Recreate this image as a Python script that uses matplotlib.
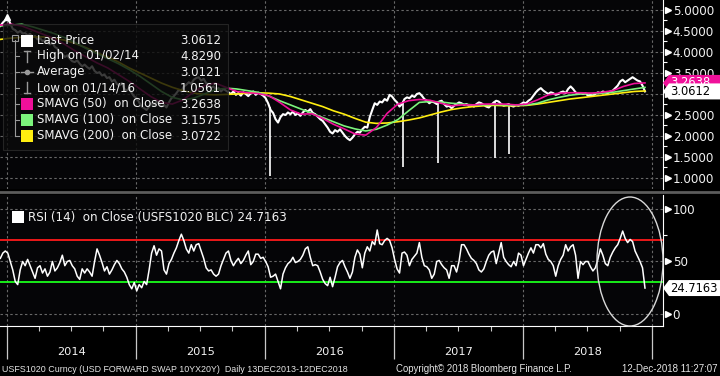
import numpy as np
import pandas as pd
import matplotlib
matplotlib.use("Agg")
import matplotlib.pyplot as plt
import matplotlib.dates as mdates
from matplotlib.patches import Rectangle, Polygon, Ellipse
from matplotlib.lines import Line2D

plt.rcParams['font.family'] = ['DejaVu Sans']

# ---- data (USFS1020, 10y20y fwd swap) ----
start, end = "2013-12-13", "2018-12-12"

# weekly closes
price = [
    4.62, 4.70, 4.76, 4.80, 4.68, 4.55, 4.52, 4.46, 4.50, 4.44,
    4.45, 4.40, 4.43, 4.36, 4.38, 4.30, 4.33, 4.26, 4.28, 4.22,
    4.18, 4.22, 4.12, 4.08, 4.00, 3.95, 3.88, 3.92, 3.84, 3.78,
    3.76, 3.80, 3.72, 3.66, 3.70, 3.64, 3.60, 3.66, 3.55, 3.50,
    3.52, 3.44, 3.46, 3.38, 3.40, 3.30, 3.34, 3.24, 3.20, 3.26,
    3.12, 3.08, 3.14, 3.02, 2.94, 2.90, 2.80, 2.70, 2.66, 2.62,
    2.70, 2.78, 2.74, 2.82, 2.76, 2.70, 2.74, 2.68, 2.80, 2.90,
    2.95, 3.02, 3.10, 3.06, 3.18, 3.22, 3.28, 3.24, 3.34, 3.38,
    3.40, 3.32, 3.36, 3.26, 3.22, 3.15, 3.18, 3.10, 3.14, 3.06,
    3.12, 3.08, 3.04, 3.00, 3.06, 2.98, 3.02, 2.96, 3.04, 3.00,
    2.95, 3.02, 3.06, 2.98, 3.03, 3.00, 2.96, 2.90, 2.78, 2.62,
    2.55, 2.40, 2.32, 2.45, 2.52, 2.50, 2.56, 2.52, 2.58, 2.50,
    2.54, 2.48, 2.56, 2.62, 2.58, 2.64, 2.55, 2.52, 2.46, 2.40,
    2.36, 2.28, 2.20, 2.10, 2.06, 2.14, 2.10, 2.16, 2.08, 2.00,
    1.94, 1.90, 1.96, 2.04, 2.10, 2.08, 2.16, 2.22, 2.20, 2.45,
    2.62, 2.78, 2.74, 2.82, 2.80, 2.88, 2.84, 2.98, 2.94, 2.86,
    2.80, 2.70, 2.76, 2.88, 2.92, 2.90, 2.96, 2.93, 3.00, 3.02,
    2.96, 2.88, 2.84, 2.78, 2.82, 2.80, 2.76, 2.82, 2.84, 2.76,
    2.70, 2.72, 2.66, 2.72, 2.76, 2.80, 2.78, 2.74, 2.76, 2.72,
    2.74, 2.70, 2.76, 2.80, 2.78, 2.74, 2.70, 2.68, 2.74, 2.80,
    2.84, 2.82, 2.76, 2.72, 2.74, 2.76, 2.72, 2.70, 2.74, 2.72,
    2.76, 2.80, 2.78, 2.84, 2.88, 2.96, 3.04, 3.10, 3.14, 3.08,
    3.04, 3.00, 3.04, 3.02, 2.98, 3.00, 3.04, 3.06, 3.02, 3.12,
    3.18, 3.12, 3.04, 3.00, 3.02, 3.00, 3.02, 2.96, 2.98, 2.96,
    3.00, 3.04, 3.02, 3.06, 3.04, 3.02, 3.06, 3.08, 3.14, 3.20,
    3.30, 3.34, 3.28, 3.32, 3.36, 3.40, 3.36, 3.32, 3.30, 3.20,
    3.0612,
]

# one-day bad prints (spikes down)
spike_dates = ["2016-01-14", "2017-01-27", "2017-05-05", "2017-10-12", "2017-11-21"]
spike_lows = [1.0561, 1.27, 1.35, 1.47, 1.58]

# moving averages, roughly monthly readings
sma50 = [
    4.64, 4.66, 4.62, 4.52, 4.42, 4.32, 4.18, 4.02, 3.88, 3.74,
    3.62, 3.46, 3.30, 3.12, 2.94, 2.80, 2.76, 2.86, 3.05, 3.20,
    3.26, 3.16, 3.06, 3.03, 3.01, 2.96, 2.80, 2.62, 2.52, 2.53,
    2.42, 2.28, 2.17, 2.05, 2.02, 2.20, 2.54, 2.76, 2.84, 2.87,
    2.85, 2.78, 2.72, 2.74, 2.74, 2.76, 2.76, 2.76, 2.74, 2.76,
    2.86, 2.98, 3.02, 3.03, 3.03, 3.02, 3.04, 3.08, 3.18, 3.25, 3.2638,
]
sma100 = [
    4.62, 4.64, 4.66, 4.60, 4.52, 4.44, 4.34, 4.22, 4.08, 3.96,
    3.84, 3.72, 3.58, 3.42, 3.24, 3.06, 2.92, 2.86, 2.90, 3.00,
    3.10, 3.14, 3.12, 3.08, 3.04, 2.95, 2.84, 2.74, 2.64, 2.54,
    2.44, 2.34, 2.24, 2.17, 2.12, 2.16, 2.26, 2.39, 2.60, 2.80,
    2.82, 2.81, 2.78, 2.76, 2.74, 2.74, 2.75, 2.74, 2.73, 2.74,
    2.78, 2.86, 2.92, 2.97, 3.00, 3.01, 3.02, 3.04, 3.08, 3.12, 3.1575,
]
sma200 = [
    4.30, 4.33, 4.35, 4.36, 4.36, 4.33, 4.28, 4.20, 4.10, 3.98,
    3.88, 3.76, 3.62, 3.50, 3.38, 3.26, 3.16, 3.08, 3.02, 2.99,
    2.98, 2.99, 3.00, 3.02, 3.03, 3.02, 3.00, 2.94, 2.86, 2.78,
    2.70, 2.60, 2.52, 2.42, 2.33, 2.30, 2.31, 2.34, 2.38, 2.43,
    2.50, 2.57, 2.63, 2.67, 2.70, 2.72, 2.73, 2.72, 2.72, 2.73,
    2.76, 2.80, 2.84, 2.88, 2.91, 2.94, 2.97, 3.00, 3.03, 3.06, 3.0722,
]

# RSI(14), weekly readings
rsi = [
    53, 58, 60, 58, 50, 42, 31, 28, 42, 50,
    46, 52, 46, 40, 34, 44, 46, 39, 43, 36,
    40, 50, 41, 44, 49, 56, 46, 50, 51, 46,
    43, 36, 33, 43, 39, 43, 40, 36, 50, 62,
    56, 49, 41, 45, 38, 42, 47, 51, 48, 43,
    40, 35, 28, 24, 30, 22, 28, 25, 31, 28,
    42, 58, 65, 56, 62, 60, 42, 38, 48, 52,
    58, 63, 70, 76, 70, 62, 58, 66, 60, 66,
    67, 60, 53, 44, 41, 42, 38, 36, 38, 46,
    52, 58, 60, 51, 46, 50, 53, 48, 51, 56,
    60, 47, 50, 57, 57, 53, 54, 50, 45, 35,
    36, 38, 31, 24, 38, 44, 48, 50, 54, 49,
    50, 52, 56, 62, 64, 54, 46, 47, 46, 40,
    33, 29, 27, 35, 26, 35, 45, 49, 51, 45,
    40, 34, 40, 54, 61, 57, 44, 58, 64, 60,
    69, 66, 80, 67, 66, 70, 72, 70, 63, 52,
    43, 39, 58, 59, 56, 46, 52, 55, 58, 68,
    54, 46, 45, 42, 34, 38, 50, 51, 47, 44,
    42, 34, 46, 46, 40, 50, 66, 66, 62, 57,
    53, 51, 48, 42, 40, 43, 50, 56, 59, 60,
    48, 58, 68, 54, 50, 47, 45, 50, 46, 58,
    56, 46, 52, 58, 63, 58, 66, 66, 63, 67,
    57, 52, 50, 46, 36, 46, 52, 56, 66, 60,
    64, 66, 56, 34, 50, 47, 50, 50, 45, 41,
    44, 52, 62, 56, 48, 46, 54, 59, 63, 66,
    72, 79, 72, 68, 71, 69, 60, 55, 50, 44,
    24.7163,
]

legend_labels = ["Last Price", "High on 01/02/14", "Average", "Low on 01/14/16",
                 "SMAVG (50)  on Close", "SMAVG (100)  on Close", "SMAVG (200)  on Close"]
legend_values = ["3.0612", "4.8290", "3.0121", "1.0561", "3.2638", "3.1575", "3.0722"]
high_date, high_value = "2014-01-02", 4.8290
last_price, last_sma50, last_rsi = 3.0612, 3.2638, 24.7163

price_ticks = [1.0, 1.5, 2.0, 2.5, 3.0, 3.5, 4.0, 4.5, 5.0]
rsi_ticks = [0, 50, 100]
years = [2014, 2015, 2016, 2017, 2018]

C_SMA50, C_SMA100, C_SMA200 = "#f0109a", "#7cf47c", "#ffee10"
GRID = "#686868"
TXT = "#f2f2f2"

# ---- figure ----
W, H = 720, 376
fig = plt.figure(figsize=(W / 100, H / 100), dpi=100, facecolor="black")


def P(x, y):
    return (x / W, 1 - y / H)


ax1 = fig.add_axes([0, 1 - 189 / H, 663 / W, 189 / H])
ax2 = fig.add_axes([0, 1 - 326 / H, 663 / W, 131 / H], sharex=ax1)

d_price = mdates.date2num(pd.date_range(start, end, periods=len(price)))
d_sma = mdates.date2num(pd.date_range(start, end, periods=len(sma50)))
d_rsi = mdates.date2num(pd.date_range(start, end, periods=len(rsi)))
d_spk = mdates.date2num(pd.to_datetime(spike_dates))

for ax in (ax1, ax2):
    ax.set_facecolor("#050507")
    for s in ("top", "left", "bottom"):
        ax.spines[s].set_visible(False)
    ax.spines["right"].set_color("white")
    ax.yaxis.tick_right()
    ax.tick_params(axis="y", which="major", length=0, pad=7, labelsize=8.6, labelcolor=TXT)
    ax.tick_params(axis="y", which="minor", length=3, width=0.8, color="white")
    ax.grid(True, which="major", color=GRID, lw=0.8, ls=(0, (2.2, 2.2)))

ax2.spines["bottom"].set_visible(True)
ax2.spines["bottom"].set_color("white")

# price panel
ax1.plot(d_price, price, color="white", lw=1.5, zorder=3)
ax1.vlines(d_spk, spike_lows, np.interp(d_spk, d_price, price), color="white", lw=1.2, zorder=3)
ax1.plot(d_sma, sma200, color=C_SMA200, lw=1.2, zorder=4)
ax1.plot(d_sma, sma100, color=C_SMA100, lw=1.2, zorder=4)
ax1.plot(d_sma, sma50, color=C_SMA50, lw=1.2, zorder=4)
ax1.plot(mdates.date2num(pd.Timestamp(high_date)), high_value, marker="^", ms=5,
         color="white", zorder=5)
ax1.set_ylim(0.738, 5.238)
ax1.set_yticks(price_ticks)
ax1.set_yticklabels([f"{v:.4f}" for v in price_ticks])
ax1.set_yticks(np.arange(1.25, 5.0, 0.5), minor=True)
ax1.plot([1.007] * len(price_ticks), price_ticks, ls="none", marker=">", ms=5, color="white",
         transform=ax1.get_yaxis_transform(), clip_on=False)

# RSI panel
ax2.axhline(70, color="#ff1a1a", lw=1.3, zorder=2)
ax2.axhline(30, color="#1aff1a", lw=1.3, zorder=2)
ax2.plot(d_rsi, rsi, color="white", lw=1.1, zorder=3)
ax2.set_ylim(-11.43, 113.33)
ax2.set_yticks(rsi_ticks)
ax2.set_yticklabels([str(v) for v in rsi_ticks])
ax2.set_yticks([25, 75], minor=True)
ax2.plot([1.007] * len(rsi_ticks), rsi_ticks, ls="none", marker=">", ms=5, color="white",
         transform=ax2.get_yaxis_transform(), clip_on=False)
ax2.add_patch(Ellipse((630 / 663, 64.5 / 131), 66 / 663, 129 / 131, transform=ax2.transAxes,
                      fill=False, ec="#d8d8d8", lw=1.0, clip_on=False, zorder=5))

# x axis
ax2.set_xlim(mdates.date2num(pd.Timestamp("2013-12-12")), mdates.date2num(pd.Timestamp("2019-02-01")))
ax2.xaxis.set_major_locator(mdates.YearLocator())
ax2.xaxis.set_minor_locator(mdates.MonthLocator(bymonth=[4, 7, 10]))
ax1.tick_params(axis="x", which="both", length=0, labelbottom=False)
ax2.tick_params(axis="x", which="major", length=24, width=0.9, color="#c8c8c8", labelbottom=False)
ax2.tick_params(axis="x", which="minor", length=3.5, width=0.8, color="#c8c8c8")
for yr in years:
    ax2.text(mdates.date2num(pd.Timestamp(f"{yr}-07-02")), -0.198, str(yr), ha="center", va="center",
             color=TXT, size=8.2, transform=ax2.get_xaxis_transform())

# panel separator
fig.add_artist(Line2D([0, 1], [1 - 192 / H] * 2, color="#5c5c5c", lw=2.0))

# legend box for price panel
fig.add_artist(Rectangle(P(3, 150), 225 / W, 126 / H, transform=fig.transFigure, fc="#0b0b0b",
                         ec="#2c2c2c", lw=0.8, alpha=0.8, zorder=3))
rows = [41, 56, 72, 88, 104, 120, 136]
swatch = {0: "white", 4: C_SMA50, 5: C_SMA100, 6: C_SMA200}
grey = "#9a9a9a"
fig.add_artist(Line2D([15 / W] * 2, [1 - 40 / H, 1 - 136 / H], color=grey, lw=0.8, zorder=4))
fig.add_artist(Rectangle(P(12, 41), 6 / W, 6 / H, transform=fig.transFigure, fill=False,
                         ec=grey, lw=0.8, zorder=4))
for i, (y, lab, val) in enumerate(zip(rows, legend_labels, legend_values)):
    if i > 0:
        fig.add_artist(Line2D([15 / W, 19 / W], [1 - y / H] * 2, color=grey, lw=0.8, zorder=4))
    if i in swatch:
        fig.add_artist(Rectangle(P(21, y + 6), 12 / W, 12 / H, transform=fig.transFigure,
                                 fc=swatch[i], ec="none", zorder=4))
    elif i == 1:
        fig.add_artist(Line2D([27 / W] * 2, [1 - (y - 5) / H, 1 - (y + 6) / H], color=grey, lw=1, zorder=4))
        fig.add_artist(Line2D([24 / W, 30 / W], [1 - (y - 5) / H] * 2, color=grey, lw=1, zorder=4))
    elif i == 2:
        fig.add_artist(Line2D([21 / W, 33 / W], [1 - y / H] * 2, color=grey, lw=1, zorder=4))
        fig.add_artist(Line2D([27 / W], [1 - y / H], marker="o", ms=3, color=grey, zorder=4))
    elif i == 3:
        fig.add_artist(Line2D([27 / W] * 2, [1 - (y - 6) / H, 1 - (y + 5) / H], color=grey, lw=1, zorder=4))
        fig.add_artist(Line2D([24 / W, 30 / W], [1 - (y + 5) / H] * 2, color=grey, lw=1, zorder=4))
    fig.text(37 / W, 1 - y / H, lab, color=TXT, size=8.5, va="center", ha="left", zorder=5)
    fig.text(221 / W, 1 - y / H, val, color=TXT, size=8.5, va="center", ha="right", zorder=5)

# RSI legend
fig.add_artist(Rectangle(P(12, 223), 12 / W, 12 / H, transform=fig.transFigure, fc="white",
                         ec="none", zorder=4))
fig.text(28 / W, 1 - 217 / H, f"RSI (14)  on Close (USFS1020 BLC) {last_rsi:.4f}", color=TXT,
         size=8.6, va="center", ha="left", zorder=5)


def flag(ax, value, label, fc, tc):
    yc = ax.transData.transform((ax.get_xlim()[0], value))[1]
    pts = [(663, yc), (669, yc + 8), (720, yc + 8), (720, yc - 8), (669, yc - 8)]
    fig.add_artist(Polygon([(x / W, y / H) for x, y in pts], closed=True, transform=fig.transFigure,
                           fc=fc, ec="none", zorder=6))
    fig.text(670 / W, yc / H, label, color=tc, size=8.3, va="center", ha="left", zorder=7)


flag(ax1, last_sma50, f"{last_sma50:.4f}", C_SMA50, "white")
flag(ax1, last_price, f"{last_price:.4f}", "white", "black")
flag(ax2, last_rsi, f"{last_rsi:.4f}", "white", "black")

# footer
foot = dict(color="#e6e6e6", size=6.4, va="center", family="Liberation Sans")
fig.text(2 / W, 1 - 369 / H, "USFS1020 Curncy (USD FORWARD SWAP 10YX20Y)  Daily 13DEC2013-12DEC2018",
         ha="left", **foot)
fig.text(396 / W, 1 - 369 / H, "Copyright\u00a9 2018 Bloomberg Finance L.P.", ha="left",
         **dict(foot, size=6.9))
fig.text(718 / W, 1 - 369 / H, "12-Dec-2018 11:27:07", ha="right", **dict(foot, size=7.0))

fig.savefig("out.png", dpi=100, facecolor="black")
